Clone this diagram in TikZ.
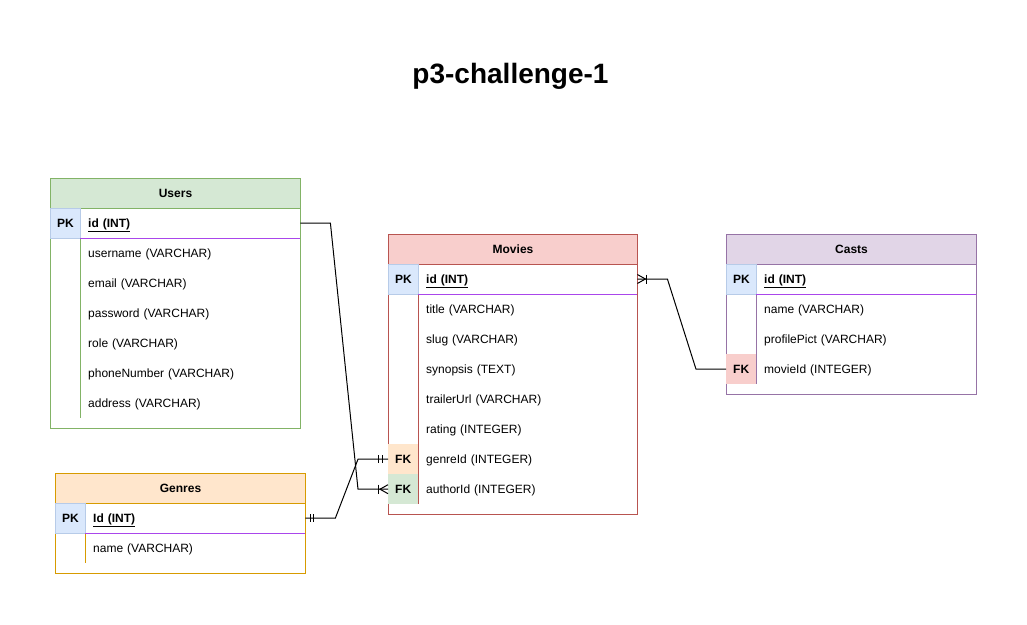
\documentclass[tikz,border=0pt]{standalone}
\usepackage{fontspec}
\setmainfont{Liberation Sans}
\usetikzlibrary{calc}
\definecolor{ugreenfill}{HTML}{D5E8D4}
\definecolor{ugreen}{HTML}{82B366}
\definecolor{mredfill}{HTML}{F8CECC}
\definecolor{mred}{HTML}{B85450}
\definecolor{cpurplefill}{HTML}{E1D5E7}
\definecolor{cpurple}{HTML}{9673A6}
\definecolor{gorangefill}{HTML}{FFE6CC}
\definecolor{gorange}{HTML}{D79B00}
\definecolor{pkfill}{HTML}{DAE8FC}
\definecolor{pkdraw}{HTML}{B7CBE8}
\definecolor{sepcol}{RGB}{170,70,235}
\newcommand{\tblfont}{\fontsize{12}{14}\selectfont}
\tikzset{
  framebox/.style={draw, line width=1pt, inner sep=0pt, anchor=north west},
  hdr/.style={draw, line width=1pt, inner sep=0pt, minimum height=30pt, anchor=north west, font=\tblfont\bfseries, text height=10pt, text depth=2pt},
  keycell/.style={inner sep=0pt, minimum width=30pt, minimum height=30pt, anchor=north west, font=\tblfont\bfseries, text height=10pt, text depth=2pt},
  pkcell/.style={keycell, fill=pkfill, draw=pkdraw, line width=0.8pt},
  field/.style={anchor=west, minimum height=30pt, inner xsep=8pt, inner ysep=0pt, align=left, text width=#1, font=\tblfont, text height=10pt, text depth=2pt},
  field/.default=204pt,
  pkfield/.style={field=#1, font=\tblfont\bfseries},
  pkfield/.default=204pt,
  sepline/.style={draw=sepcol, line width=1pt},
  conn/.style={draw=black, line width=1pt},
}
\begin{document}
\begin{tikzpicture}[x=1pt, y=-1pt, font=\tblfont]
\useasboundingbox (0,0) rectangle (1027,624);

% title
\node[anchor=base, font=\bfseries\fontsize{28}{34}\selectfont] (title) at (510.5,83) {p3-challenge-1};

% ---------------- Users ----------------
\node[framebox, draw=ugreen, minimum width=250pt, minimum height=250pt] (users) at (50,178) {};
\node[hdr, draw=ugreen, fill=ugreenfill, minimum width=250pt] (users-h) at (50,178) {Users};
\node[pkfield] (users-id) at (80,223) {\underline{id (INT)}};
\node[field] (users-username) at (80,253) {username (VARCHAR)};
\node[field] (users-email) at (80,283) {email (VARCHAR)};
\node[field] (users-password) at (80,313) {password (VARCHAR)};
\node[field] (users-role) at (80,343) {role (VARCHAR)};
\node[field] (users-phone) at (80,373) {phoneNumber (VARCHAR)};
\node[field] (users-address) at (80,403) {address (VARCHAR)};
\draw[ugreen, line width=1pt] (users-id.north west) -- (users-address.south west);
\node[pkcell] (users-pk) at (50,208) {PK};
\draw[sepline] (users-id.south west) -- (users-id.south east);

% ---------------- Genres ----------------
\node[framebox, draw=gorange, minimum width=250pt, minimum height=100pt] (genres) at (55,473) {};
\node[hdr, draw=gorange, fill=gorangefill, minimum width=250pt] (genres-h) at (55,473) {Genres};
\node[pkfield] (genres-id) at (85,518) {\underline{Id (INT)}};
\node[field] (genres-name) at (85,548) {name (VARCHAR)};
\draw[gorange, line width=1pt] (genres-id.north west) -- (genres-name.south west);
\node[pkcell] (genres-pk) at (55,503) {PK};
\draw[sepline] (genres-id.south west) -- (genres-id.south east);

% ---------------- Movies ----------------
\node[framebox, draw=mred, minimum width=249pt, minimum height=280pt] (movies) at (388,234) {};
\node[hdr, draw=mred, fill=mredfill, minimum width=249pt] (movies-h) at (388,234) {Movies};
\node[pkfield=203pt] (movies-id) at (418,279) {\underline{id (INT)}};
\node[field=203pt] (movies-title) at (418,309) {title (VARCHAR)};
\node[field=203pt] (movies-slug) at (418,339) {slug (VARCHAR)};
\node[field=203pt] (movies-synopsis) at (418,369) {synopsis (TEXT)};
\node[field=203pt] (movies-trailer) at (418,399) {trailerUrl (VARCHAR)};
\node[field=203pt] (movies-rating) at (418,429) {rating (INTEGER)};
\node[field=203pt] (movies-genreid) at (418,459) {genreId (INTEGER)};
\node[field=203pt] (movies-authorid) at (418,489) {authorId (INTEGER)};
\draw[mred, line width=1pt] (movies-id.north west) -- (movies-authorid.south west);
\node[pkcell] (movies-pk) at (388,264) {PK};
\node[keycell, fill=gorangefill] (movies-fk1) at (388,444) {FK};
\node[keycell, fill=ugreenfill] (movies-fk2) at (388,474) {FK};
\draw[sepline] (movies-id.south west) -- (movies-id.south east);

% ---------------- Casts ----------------
\node[framebox, draw=cpurple, minimum width=250pt, minimum height=160pt] (casts) at (726,234) {};
\node[hdr, draw=cpurple, fill=cpurplefill, minimum width=250pt] (casts-h) at (726,234) {Casts};
\node[pkfield] (casts-id) at (756,279) {\underline{id (INT)}};
\node[field] (casts-name) at (756,309) {name (VARCHAR)};
\node[field] (casts-pict) at (756,339) {profilePict (VARCHAR)};
\node[field] (casts-movieid) at (756,369) {movieId (INTEGER)};
\draw[cpurple, line width=1pt] (casts-id.north west) -- (casts-movieid.south west);
\node[pkcell] (casts-pk) at (726,264) {PK};
\node[keycell, fill=mredfill] (casts-fk) at (726,354) {FK};
\draw[sepline] (casts-id.south west) -- (casts-id.south east);

% ---------------- Connectors ----------------
% Users.id -> Movies.authorId
\draw[conn] (users-id.east) -- ++(30,0) -- ($(movies-fk2.west)+(-30,0)$) -- (movies-fk2.west);
\draw[conn] ($(movies-fk2.west)+(-10,-4.5)$) -- ++(0,9);
\draw[conn] ($(movies-fk2.west)+(0,-4.5)$) -- ($(movies-fk2.west)+(-8,0)$) -- ($(movies-fk2.west)+(0,4.5)$);

% Genres.Id -> Movies.genreId
\draw[conn] (genres-id.east) -- ++(30,0) -- ($(movies-fk1.west)+(-30,0)$) -- (movies-fk1.west);
\draw[conn] ($(genres-id.east)+(5,-4)$) -- ++(0,8);
\draw[conn] ($(genres-id.east)+(8.5,-4)$) -- ++(0,8);
\draw[conn] ($(movies-fk1.west)+(-6,-4)$) -- ++(0,8);
\draw[conn] ($(movies-fk1.west)+(-9.5,-4)$) -- ++(0,8);

% Movies.id -> Casts.movieId
\draw[conn] (movies-id.east) -- ++(30,0) -- ($(casts-fk.west)+(-30,0)$) -- (casts-fk.west);
\draw[conn] ($(movies-id.east)+(0,-4.5)$) -- ($(movies-id.east)+(8,0)$) -- ($(movies-id.east)+(0,4.5)$);
\draw[conn] ($(movies-id.east)+(9,-4.5)$) -- ++(0,9);

\end{tikzpicture}
\end{document}
